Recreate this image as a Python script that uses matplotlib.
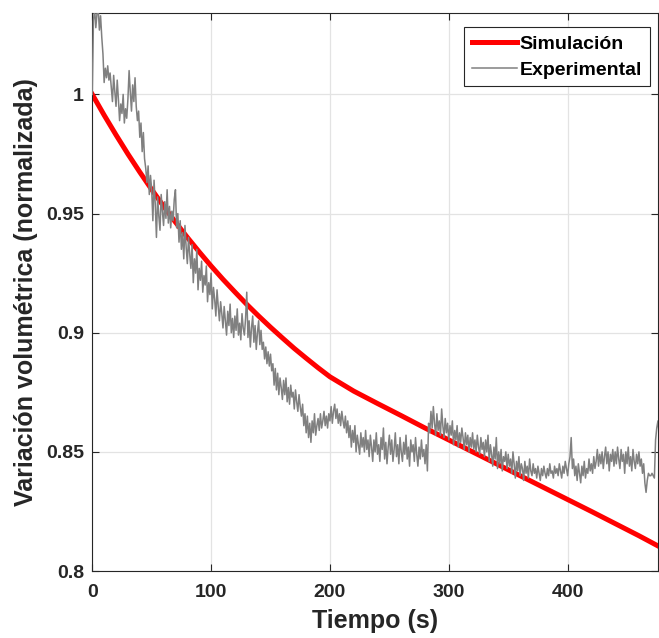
import numpy as np
import matplotlib
matplotlib.use('Agg')
import matplotlib.pyplot as plt
from matplotlib.ticker import FormatStrFormatter

plt.rcParams['font.family'] = ['Liberation Sans', 'DejaVu Sans']
plt.rcParams['font.weight'] = 'bold'

# curva simulada
sim_t = [0, 10, 20, 30, 40, 50, 60, 70, 80, 90, 100, 110, 120, 130, 140, 150, 160, 170, 180,
         190, 200, 220, 240, 260, 280, 300, 340, 380, 420, 460, 478]
sim_v = [1.000, 0.9913, 0.9830, 0.9750, 0.9674, 0.9601, 0.9531, 0.9464, 0.9400, 0.9339,
         0.9280, 0.9224, 0.9171, 0.9119, 0.9070, 0.9023, 0.8978, 0.8934, 0.8893, 0.8853,
         0.8815, 0.8755, 0.8703, 0.8652, 0.8600, 0.8550, 0.8450, 0.8350, 0.8250, 0.8148, 0.8100]

# datos experimentales (muestreo cada 1 s)
exp_dt = 1
exp_v = [
    1.000, 1.031, 1.036, 1.028, 1.034, 1.036, 1.027, 1.033, 1.024, 1.017,
    1.005, 1.011, 1.007, 1.012, 1.006, 1.009, 1.003, 0.997, 1.008, 1.001,
    0.995, 1.006, 0.998, 0.989, 0.996, 0.992, 1.000, 0.988, 0.994, 0.990,
    0.998, 1.010, 1.001, 0.993, 1.004, 0.997, 1.007, 0.995, 0.989, 0.993,
    0.982, 0.988, 0.976, 0.984, 0.973, 0.969, 0.963, 0.970, 0.958, 0.966,
    0.960, 0.947, 0.964, 0.954, 0.940, 0.957, 0.949, 0.943, 0.958, 0.951,
    0.945, 0.955, 0.948, 0.960, 0.946, 0.953, 0.944, 0.951, 0.947, 0.956,
    0.960, 0.944, 0.950, 0.938, 0.947, 0.935, 0.942, 0.931, 0.945, 0.936,
    0.929, 0.940, 0.933, 0.927, 0.937, 0.921, 0.931, 0.925, 0.935, 0.918,
    0.927, 0.922, 0.930, 0.917, 0.924, 0.920, 0.928, 0.913, 0.921, 0.916,
    0.925, 0.910, 0.919, 0.914, 0.907, 0.918, 0.911, 0.905, 0.913, 0.908,
    0.902, 0.911, 0.905, 0.899, 0.909, 0.903, 0.912, 0.900, 0.906, 0.898,
    0.907, 0.901, 0.910, 0.899, 0.904, 0.897, 0.908, 0.902, 0.899, 0.906,
    0.917, 0.898, 0.905, 0.894, 0.902, 0.907, 0.896, 0.903, 0.893, 0.900,
    0.905, 0.895, 0.901, 0.893, 0.896, 0.889, 0.894, 0.887, 0.892, 0.886,
    0.891, 0.884, 0.887, 0.878, 0.885, 0.876, 0.883, 0.874, 0.881, 0.877,
    0.872, 0.880, 0.874, 0.881, 0.871, 0.877, 0.870, 0.878, 0.873, 0.875,
    0.868, 0.876, 0.871, 0.867, 0.874, 0.869, 0.865, 0.870, 0.861, 0.866,
    0.858, 0.865, 0.856, 0.862, 0.854, 0.863, 0.858, 0.866, 0.857, 0.861,
    0.864, 0.859, 0.866, 0.860, 0.863, 0.867, 0.861, 0.865, 0.860, 0.866,
    0.863, 0.869, 0.862, 0.867, 0.870, 0.864, 0.868, 0.862, 0.866, 0.861,
    0.867, 0.863, 0.860, 0.865, 0.858, 0.863, 0.856, 0.861, 0.852, 0.859,
    0.854, 0.861, 0.850, 0.857, 0.853, 0.849, 0.858, 0.852, 0.856, 0.850,
    0.859, 0.851, 0.855, 0.848, 0.857, 0.852, 0.846, 0.855, 0.850, 0.858,
    0.849, 0.853, 0.846, 0.856, 0.851, 0.860, 0.847, 0.854, 0.845, 0.852,
    0.857, 0.849, 0.855, 0.846, 0.851, 0.858, 0.848, 0.853, 0.845, 0.856,
    0.850, 0.846, 0.854, 0.849, 0.857, 0.847, 0.852, 0.844, 0.855, 0.850,
    0.853, 0.846, 0.856, 0.849, 0.844, 0.852, 0.847, 0.855, 0.848, 0.851,
    0.845, 0.853, 0.842, 0.862, 0.858, 0.867, 0.860, 0.869, 0.862, 0.857,
    0.866, 0.859, 0.863, 0.857, 0.868, 0.861, 0.856, 0.864, 0.858, 0.862,
    0.855, 0.861, 0.857, 0.863, 0.853, 0.859, 0.855, 0.861, 0.852, 0.858,
    0.854, 0.860, 0.856, 0.851, 0.858, 0.853, 0.857, 0.850, 0.856, 0.852,
    0.858, 0.851, 0.855, 0.850, 0.857, 0.852, 0.849, 0.856, 0.851, 0.854,
    0.848, 0.855, 0.850, 0.857, 0.846, 0.853, 0.849, 0.844, 0.852, 0.847,
    0.856, 0.843, 0.850, 0.845, 0.851, 0.842, 0.848, 0.846, 0.850, 0.843,
    0.849, 0.844, 0.847, 0.841, 0.850, 0.845, 0.839, 0.846, 0.842, 0.848,
    0.840, 0.845, 0.843, 0.838, 0.846, 0.841, 0.844, 0.839, 0.847, 0.842,
    0.840, 0.845, 0.841, 0.843, 0.839, 0.844, 0.841, 0.838, 0.843, 0.840,
    0.844, 0.841, 0.839, 0.843, 0.840, 0.845, 0.841, 0.842, 0.839, 0.844,
    0.841, 0.843, 0.840, 0.845, 0.842, 0.839, 0.844, 0.841, 0.846, 0.843,
    0.840, 0.845, 0.848, 0.856, 0.843, 0.847, 0.840, 0.844, 0.838, 0.845,
    0.841, 0.837, 0.844, 0.840, 0.846, 0.839, 0.843, 0.841, 0.847, 0.842,
    0.845, 0.841, 0.848, 0.843, 0.846, 0.851, 0.844, 0.849, 0.845, 0.850,
    0.843, 0.848, 0.852, 0.845, 0.850, 0.842, 0.849, 0.846, 0.851, 0.844,
    0.850, 0.845, 0.852, 0.847, 0.843, 0.851, 0.846, 0.849, 0.841, 0.850,
    0.845, 0.852, 0.844, 0.848, 0.842, 0.851, 0.846, 0.843, 0.849, 0.845,
    0.850, 0.844, 0.847, 0.841, 0.845, 0.837, 0.833, 0.838, 0.841, 0.840,
    0.840, 0.841, 0.840, 0.839, 0.855, 0.860, 0.863, 0.858,
]
exp_t = np.arange(len(exp_v)) * exp_dt

xticks = [0, 100, 200, 300, 400]
yticks = [0.8, 0.85, 0.9, 0.95, 1.0]

fig = plt.figure(figsize=(6.59, 6.38), dpi=100)
ax = fig.add_axes([0.140, 0.105, 0.8584, 0.874])

ax.plot(sim_t, sim_v, color='red', lw=3.6, label='Simulación', zorder=2)
ax.plot(exp_t, exp_v, color='gray', lw=1.1, label='Experimental', zorder=3)

ax.set_xlim(0, 476)
ax.set_ylim(0.8, 1.034)
ax.set_xticks(xticks)
ax.set_yticks(yticks)
ax.yaxis.set_major_formatter(FormatStrFormatter('%g'))
ax.grid(True, color='#e3e3e3', lw=0.9)
ax.set_axisbelow(True)
ax.tick_params(direction='in', length=5, width=0.8, top=True, right=True,
               labelsize=14, colors='#262626')
ax.tick_params(axis='x', pad=9)
ax.tick_params(axis='y', pad=6)
for lab in ax.get_xticklabels() + ax.get_yticklabels():
    lab.set_fontweight('bold')
for s in ax.spines.values():
    s.set_color('#262626')
    s.set_linewidth(0.8)

ax.set_xlabel('Tiempo (s)', fontsize=18, fontweight='bold', color='#262626', labelpad=6)
ax.set_ylabel('Variación volumétrica (normalizada)', fontsize=18, fontweight='bold',
              color='#262626', labelpad=6)

leg = ax.legend(loc='upper right', bbox_to_anchor=(0.986, 0.975), borderaxespad=0,
                prop={'weight': 'bold', 'size': 14},
                fancybox=False, framealpha=1, edgecolor='#262626',
                handlelength=2.3, handletextpad=0.15, borderpad=0.4, labelspacing=0.42)
leg.get_frame().set_linewidth(0.8)
leg.set_zorder(5)

fig.savefig('out.png', dpi=100)
